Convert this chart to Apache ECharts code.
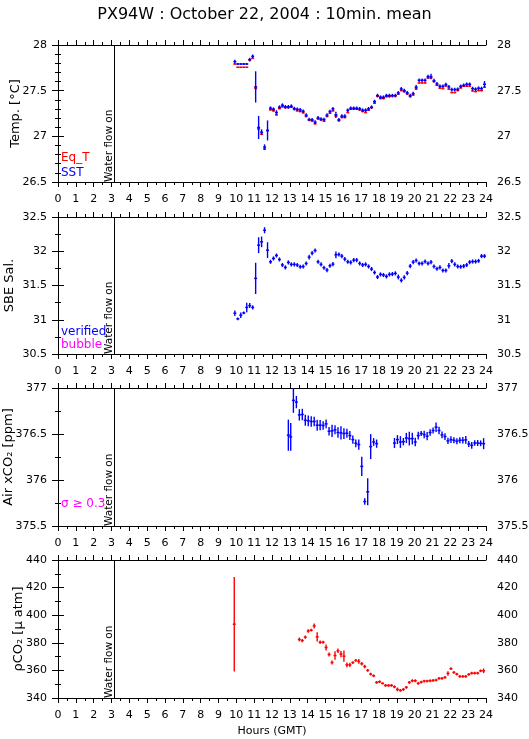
<!DOCTYPE html>
<html><head><meta charset="utf-8">
<script src="https://cdn.jsdelivr.net/npm/echarts@6/dist/echarts.min.js"></script>
<style>html,body{margin:0;padding:0;background:#fff}#c{width:529px;height:739px}</style>
</head><body><div id="c"></div>
<script>
// ---------- data ----------
const chartTitle = 'PX94W : October 22, 2004 : 10min. mean';
const hourMin = 0, hourMax = 24, hourStep = 1;
const waterFlowOnMin = 190; // minutes of day

// 10-min mean time stamps (minutes of day) for Eq_T / SST / Salinity
const tMin = [595,605,615,625,635,645,655,665,675,685,
  695,705,715,725,735,745,755,765,775,785,
  795,805,815,825,835,845,855,865,875,885,
  895,905,915,925,935,945,955,965,975,985,
  995,1005,1015,1025,1035,1045,1055,1065,1075,1085,
  1095,1105,1115,1125,1135,1145,1155,1165,1175,1185,
  1195,1205,1215,1225,1235,1245,1255,1265,1275,1285,
  1295,1305,1315,1325,1335,1345,1355,1365,1375,1385,
  1395,1405,1415,1425,1435];

const eqT = [27.792,27.756,27.756,27.756,27.756,27.836,27.854,27.527,27.082,27.024,
  26.860,27.064,27.290,27.279,27.235,27.304,27.323,27.315,27.315,27.319,
  27.297,27.279,27.272,27.257,27.217,27.177,27.170,27.137,27.192,27.181,
  27.166,27.217,27.253,27.279,27.221,27.173,27.206,27.206,27.261,27.297,
  27.297,27.297,27.290,27.272,27.261,27.286,27.315,27.363,27.439,27.414,
  27.414,27.436,27.436,27.443,27.443,27.461,27.501,27.490,27.465,27.436,
  27.454,27.519,27.585,27.585,27.585,27.639,27.639,27.599,27.559,27.527,
  27.523,27.552,27.516,27.479,27.479,27.501,27.530,27.548,27.548,27.548,
  27.497,27.490,27.501,27.501,27.538];
const eqTSd = [0.008,0.006,0.006,0.006,0.006,0.008,0.008,0.02,0.02,0.01,
  0.01,0.01,0.008,0.008,0.008,0.008,0.008,0.008,0.008,0.008,
  0.008,0.008,0.008,0.008,0.008,0.008,0.008,0.008,0.008,0.008,
  0.008,0.008,0.008,0.008,0.01,0.008,0.008,0.008,0.008,0.008,
  0.008,0.008,0.008,0.008,0.008,0.008,0.008,0.008,0.008,0.008,
  0.008,0.008,0.008,0.008,0.008,0.008,0.008,0.008,0.008,0.008,
  0.008,0.008,0.008,0.008,0.008,0.008,0.008,0.008,0.008,0.008,
  0.008,0.008,0.008,0.008,0.008,0.008,0.008,0.008,0.008,0.008,
  0.008,0.008,0.008,0.008,0.008];

const sst = [27.818,27.792,27.792,27.792,27.792,27.840,27.876,27.541,27.097,27.046,
  26.882,27.064,27.308,27.297,27.261,27.319,27.341,27.323,27.323,27.330,
  27.304,27.297,27.290,27.275,27.232,27.184,27.181,27.155,27.202,27.188,
  27.184,27.232,27.272,27.301,27.235,27.181,27.221,27.221,27.286,27.308,
  27.308,27.308,27.301,27.286,27.286,27.301,27.319,27.381,27.446,27.428,
  27.428,27.446,27.446,27.446,27.446,27.476,27.519,27.501,27.476,27.446,
  27.468,27.538,27.614,27.614,27.614,27.654,27.654,27.610,27.574,27.548,
  27.548,27.567,27.541,27.512,27.512,27.516,27.548,27.559,27.570,27.570,
  27.523,27.516,27.527,27.523,27.570];
const sstSd = [0.02,0.012,0.012,0.012,0.012,0.02,0.02,0.171,0.126,0.03,
  0.03,0.11,0.02,0.02,0.025,0.02,0.02,0.02,0.02,0.02,
  0.02,0.02,0.02,0.02,0.02,0.02,0.02,0.02,0.02,0.02,
  0.02,0.02,0.02,0.02,0.035,0.02,0.02,0.02,0.02,0.02,
  0.02,0.02,0.02,0.02,0.02,0.02,0.02,0.02,0.02,0.02,
  0.02,0.02,0.02,0.02,0.02,0.02,0.02,0.02,0.02,0.02,
  0.02,0.025,0.02,0.02,0.02,0.02,0.03,0.02,0.02,0.02,
  0.02,0.02,0.02,0.02,0.02,0.02,0.02,0.02,0.02,0.02,
  0.02,0.02,0.02,0.02,0.035];

const sal = [31.095,31.013,31.066,31.100,31.180,31.207,31.180,31.604,32.089,32.137,
  32.307,32.016,31.846,31.895,31.938,31.880,31.800,31.764,31.837,31.808,
  31.808,31.800,31.774,31.778,31.822,31.914,31.972,32.011,31.846,31.808,
  31.759,31.725,31.788,31.812,31.948,31.953,31.929,31.885,31.846,31.837,
  31.871,31.871,31.822,31.800,31.808,31.778,31.740,31.690,31.624,31.662,
  31.653,31.633,31.662,31.667,31.677,31.624,31.575,31.618,31.680,31.783,
  31.841,31.865,31.822,31.822,31.850,31.822,31.841,31.778,31.745,31.764,
  31.720,31.720,31.788,31.856,31.808,31.778,31.774,31.783,31.800,31.841,
  31.850,31.850,31.860,31.929,31.929];
const salSd = [0.04,0.02,0.04,0.02,0.07,0.036,0.03,0.228,0.116,0.078,
  0.044,0.116,0.03,0.03,0.03,0.03,0.03,0.03,0.03,0.03,
  0.03,0.03,0.03,0.03,0.03,0.034,0.03,0.03,0.03,0.03,
  0.03,0.03,0.03,0.03,0.05,0.03,0.03,0.03,0.03,0.03,
  0.03,0.03,0.03,0.03,0.03,0.03,0.03,0.03,0.03,0.03,
  0.03,0.03,0.03,0.03,0.03,0.035,0.03,0.03,0.03,0.03,
  0.03,0.03,0.03,0.03,0.03,0.03,0.03,0.03,0.03,0.03,
  0.03,0.03,0.04,0.03,0.03,0.03,0.03,0.03,0.03,0.03,
  0.03,0.03,0.03,0.03,0.03];

// Air xCO2
const airMin = [775,783,792,802,812,822,832,842,852,862,872,882,892,902,912,922,
  932,942,952,962,972,982,992,1002,1012,1022,1032,1042,1052,1062,1072,
  1132,1142,1152,1162,1172,1182,1192,1202,1212,1222,1232,1242,1252,1262,1272,
  1282,1292,1302,1312,1322,1332,1342,1352,1362,1372,1382,1392,1402,1412,1422,1432];
const airX = [376.487,376.468,376.865,376.847,376.708,376.712,376.650,376.643,376.636,376.636,
  376.596,376.596,376.592,376.610,376.530,376.534,376.545,376.516,376.512,376.505,
  376.508,376.483,376.439,376.399,376.385,376.148,375.766,375.872,376.363,376.413,376.395,
  376.402,376.439,376.413,376.417,376.457,376.450,376.450,376.413,376.483,376.505,
  376.494,376.476,376.516,376.538,376.574,376.538,376.490,376.472,376.425,376.439,
  376.432,376.421,376.432,376.432,376.436,376.392,376.377,376.402,376.402,376.399,376.395];
const airSd = [0.169,0.151,0.135,0.067,0.062,0.062,0.060,0.058,0.058,0.051,
  0.060,0.055,0.047,0.047,0.045,0.066,0.049,0.058,0.073,0.058,
  0.049,0.049,0.045,0.042,0.055,0.104,0.036,0.146,0.136,0.042,0.045,
  0.055,0.049,0.064,0.040,0.055,0.075,0.064,0.045,0.042,0.027,
  0.040,0.045,0.036,0.033,0.051,0.040,0.036,0.036,0.033,0.036,
  0.033,0.033,0.033,0.036,0.042,0.033,0.036,0.031,0.033,0.031,0.060];

// pCO2
const pco2Min = [593,
  812,822,832,842,852,862,872,882,892,902,
  912,922,932,942,952,962,972,982,992,1002,
  1012,1022,1032,1042,1052,1062,1072,1082,1092,1102,
  1112,1122,1132,1142,1152,1162,1172,1182,1192,1202,
  1212,1222,1232,1242,1252,1262,1272,1282,1292,1302,
  1312,1322,1332,1342,1352,1362,1372,1382,1392,1402,
  1412,1422,1432];
const pco2 = [393.45,
  382.4,381.6,384.05,388.6,389.1,392.2,384.3,380.4,380.4,376.6,
  371.5,365.7,370.8,374.2,371.8,370.3,364.0,364.0,365.7,367.2,
  366.5,364.8,362.8,360.0,357.3,356.1,351.3,351.8,350.6,349.1,
  349.1,349.1,348.1,346.2,345.5,346.2,347.7,351.3,352.5,352.5,
  350.6,351.5,352.3,352.3,352.5,352.7,353.0,354.2,354.2,354.9,
  357.8,361.2,358.5,357.3,355.6,355.6,355.6,357.1,358.0,358.0,
  358.0,359.7,359.7];
const pco2Sd = [34.3,
  1.4,1.2,1.2,1.3,1.0,1.8,3.4,1.2,1.0,2.2,
  1.4,1.4,3.1,1.6,2.2,4.1,1.8,1.5,1.0,1.0,
  1.7,1.3,1.3,1.0,1.0,1.0,1.0,1.0,0.8,1.0,
  1.0,1.0,1.0,1.4,1.0,1.0,1.0,1.0,1.0,1.0,
  1.0,1.0,1.0,1.0,1.0,1.0,1.0,1.0,1.0,1.0,
  1.6,1.0,1.0,1.0,1.0,1.0,1.0,1.0,1.0,1.0,
  1.0,1.0,1.7];

// ---------- chart ----------
const FONT = '"DejaVu Sans", sans-serif';
const toData = (mins, vals, sds) => mins.map((m, i) => [m / 60, vals[i], sds[i]]);

function errBar(params, api) {
  const t = api.value(0), v = api.value(1), s = api.value(2);
  const h = 5 / 60;
  const a = api.coord([t - h, v]), b = api.coord([t + h, v]);
  const c = api.coord([t, v - s]), d = api.coord([t, v + s]);
  const col = api.visual('color');
  return { type: 'group', children: [
    { type: 'line', shape: { x1: a[0], y1: a[1], x2: b[0], y2: b[1] }, style: { stroke: col, lineWidth: 1.5 } },
    { type: 'line', shape: { x1: c[0], y1: c[1], x2: d[0], y2: d[1] }, style: { stroke: col, lineWidth: 1.4 } }
  ]};
}
function waterRender(params, api) {
  const cs = params.coordSys;
  const x = Math.round(api.coord([api.value(0), api.value(1)])[0]) + 0.5;
  return { type: 'group', children: [
    { type: 'line', shape: { x1: x, y1: cs.y, x2: x, y2: cs.y + cs.height }, style: { stroke: '#000', lineWidth: 1 } },
    { type: 'text', x: x + 0.5, y: cs.y + cs.height, rotation: Math.PI / 2,
      style: { text: 'Water flow on', fill: '#000', fontSize: 10.5, fontFamily: 'DejaVu Sans', align: 'left', verticalAlign: 'bottom' } }
  ]};
}

const panels = [
  { top: 45, height: 137, min: 26.5, max: 28, interval: 0.5, minor: 5, name: 'Temp. [°C]', gap: 36 },
  { top: 217, height: 137, min: 30.5, max: 32.5, interval: 0.5, minor: 2, name: 'SBE Sal.', gap: 42 },
  { top: 388, height: 138, min: 375.5, max: 377, interval: 0.5, minor: 2, name: 'Air xCO₂ [ppm]', gap: 43 },
  { top: 560, height: 138, min: 340, max: 440, interval: 20, minor: 2, name: 'ρCO₂ [μ atm]', gap: 33 }
];

const grid = [], xAxis = [], yAxis = [];
const axLine = { show: true, lineStyle: { color: '#000', width: 1 } };
panels.forEach((p, i) => {
  grid.push({ left: 58, width: 428, top: p.top, height: p.height, show: false,
    containLabel: false, outerBoundsMode: 'none' });
  const xBase = {
    type: 'value', gridIndex: i, min: hourMin, max: hourMax, interval: hourStep,
    axisLine: axLine, splitLine: { show: false },
    axisTick: { show: true, length: 5, lineStyle: { color: '#000' } },
    minorTick: { show: true, splitNumber: 2, length: 3, lineStyle: { color: '#000' } }
  };
  xAxis.push(Object.assign({}, xBase, {
    position: 'bottom',
    axisLabel: { show: true, fontSize: 11, fontFamily: FONT, color: '#000', margin: 12 },
    name: i === 3 ? 'Hours (GMT)' : '', nameLocation: 'middle', nameGap: 28, nameMoveOverlap: false,
    nameTextStyle: { fontSize: 11, fontFamily: FONT, color: '#000' }
  }));
  xAxis.push(Object.assign({}, xBase, { position: 'top', axisLabel: { show: false } }));
  const yBase = {
    type: 'value', gridIndex: i, min: p.min, max: p.max, interval: p.interval,
    axisLine: axLine, splitLine: { show: false },
    axisTick: { show: true, length: 6, lineStyle: { color: '#000' } },
    minorTick: { show: true, splitNumber: p.minor, length: 3, lineStyle: { color: '#000' } },
    axisLabel: { show: true, fontSize: 11, fontFamily: FONT, color: '#000', margin: 11 }
  };
  yAxis.push(Object.assign({}, yBase, {
    position: 'left', name: p.name, nameLocation: 'middle', nameGap: p.gap, nameMoveOverlap: false,
    nameTextStyle: { fontSize: 13, fontFamily: FONT, color: '#000' }
  }));
  yAxis.push(Object.assign({}, yBase, { position: 'right' }));
});

const series = [
  { type: 'custom', name: 'Eq_T', xAxisIndex: 0, yAxisIndex: 0, clip: true, renderItem: errBar,
    itemStyle: { color: '#ff0000' }, data: toData(tMin, eqT, eqTSd) },
  { type: 'custom', name: 'SST', xAxisIndex: 0, yAxisIndex: 0, clip: true, renderItem: errBar,
    itemStyle: { color: '#0000ff' }, data: toData(tMin, sst, sstSd) },
  { type: 'custom', name: 'verified', xAxisIndex: 2, yAxisIndex: 2, clip: true, renderItem: errBar,
    itemStyle: { color: '#0000ff' }, data: toData(tMin, sal, salSd) },
  { type: 'custom', name: 'Air xCO2', xAxisIndex: 4, yAxisIndex: 4, clip: true, renderItem: errBar,
    itemStyle: { color: '#0000ff' }, data: toData(airMin, airX, airSd) },
  { type: 'custom', name: 'pCO2', xAxisIndex: 6, yAxisIndex: 6, clip: true, renderItem: errBar,
    itemStyle: { color: '#ff0000' }, data: toData(pco2Min, pco2, pco2Sd) }
];
panels.forEach((p, i) => {
  series.push({ type: 'custom', xAxisIndex: 2 * i, yAxisIndex: 2 * i, renderItem: waterRender,
    silent: true, data: [[waterFlowOnMin / 60, p.min]] });
});

const legendText = (txt, x, y, color) => ({ type: 'text', x: x, y: y,
  style: { text: txt, fill: color, fontSize: 12, fontFamily: 'DejaVu Sans', verticalAlign: 'middle', align: 'left' } });

const chart = echarts.init(document.getElementById('c'), null, { renderer: 'canvas' });
chart.setOption({
  animation: false,
  backgroundColor: '#fff',
  title: { text: chartTitle, left: 'center', top: 2,
    textStyle: { fontSize: 16, fontWeight: 'normal', fontFamily: FONT, color: '#000' } },
  grid, xAxis, yAxis, series,
  graphic: [
    legendText('Eq_T', 61, 158, '#ff0000'),
    legendText('SST', 61, 173, '#0000ff'),
    legendText('verified', 61, 332, '#0000ff'),
    legendText('bubble', 61, 345, '#ff00ff'),
    legendText('σ ≥ 0.3', 61, 504, '#ff00ff')
  ]
});
</script></body></html>
